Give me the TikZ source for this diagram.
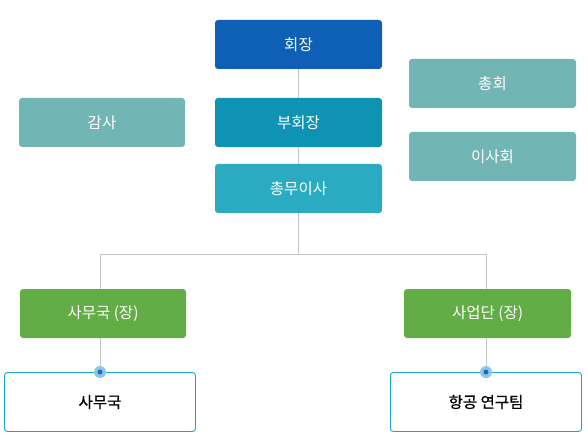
\documentclass[tikz,border=0pt]{standalone}
\usepackage{fontspec}
\setmainfont{Noto Sans CJK KR}
\usepackage{xcolor}
\usetikzlibrary{positioning}

\definecolor{chairblue}{HTML}{0D60B5}
\definecolor{viceblue}{HTML}{0E93B5}
\definecolor{secteal}{HTML}{2AABC1}
\definecolor{sidegrey}{HTML}{72B5B5}
\definecolor{unitgreen}{HTML}{62AD45}
\definecolor{teamline}{HTML}{1AA7C6}
\definecolor{linkgrey}{HTML}{C4C4C4}
\definecolor{dotouter}{HTML}{8FC3E8}
\definecolor{dotinner}{HTML}{1B6FB8}

\begin{document}
\begin{tikzpicture}[
    x=1pt, y=-1pt,
    box/.style={rectangle, rounded corners=3pt, minimum width=167pt, minimum height=49pt,
                text=white, font=\fontsize{15.5}{18}\selectfont},
    team/.style={rectangle, rounded corners=3pt, draw=teamline, line width=0.9pt, fill=white,
                 minimum width=191pt, minimum height=59pt,
                 font=\fontsize{15.5}{18}\selectfont\addfontfeature{FakeBold=0.8}},
    link/.style={draw=linkgrey, line width=0.8pt}
]
\useasboundingbox (0,0) rectangle (588,446);

\node[box, fill=chairblue] (chair) at (298.5,44.5) {회장};
\node[box, fill=viceblue] (vice) at (298.5,122.5) {부회장};
\node[box, fill=secteal] (sec) at (298.5,188.5) {총무이사};
\node[box, fill=sidegrey, minimum width=166pt] (audit) at (102,122.5) {감사};
\node[box, fill=sidegrey] (assembly) at (492.5,83.5) {총회};
\node[box, fill=sidegrey] (board) at (492.5,156.5) {이사회};
\node[box, fill=unitgreen, minimum width=166pt] (office) at (103,313.5) {사무국 (장)};
\node[box, fill=unitgreen] (biz) at (487.5,313.5) {사업단 (장)};
\node[team] (officeteam) at (100,402) {사무국};
\node[team] (aviation) at (486,402) {항공 연구팀};

\coordinate (bus) at (298.5,254);

\draw[link] (chair) -- (vice);
\draw[link] (vice) -- (sec);
\draw[link] (sec) -- (bus);
\draw[link] (officeteam.north |- bus) -- (aviation.north |- bus);
\draw[link] (officeteam.north |- bus) -- (officeteam.north |- office.north);
\draw[link] (aviation.north |- bus) -- (aviation.north |- biz.north);
\draw[link] (officeteam.north |- office.south) -- (officeteam.north);
\draw[link] (aviation.north |- biz.south) -- (aviation.north);

% connector dots
\foreach \t in {officeteam, aviation} {
  \fill[dotouter] (\t.north) circle (6pt);
  \fill[dotinner] (\t.north) circle (2.5pt);
}
\end{tikzpicture}
\end{document}
